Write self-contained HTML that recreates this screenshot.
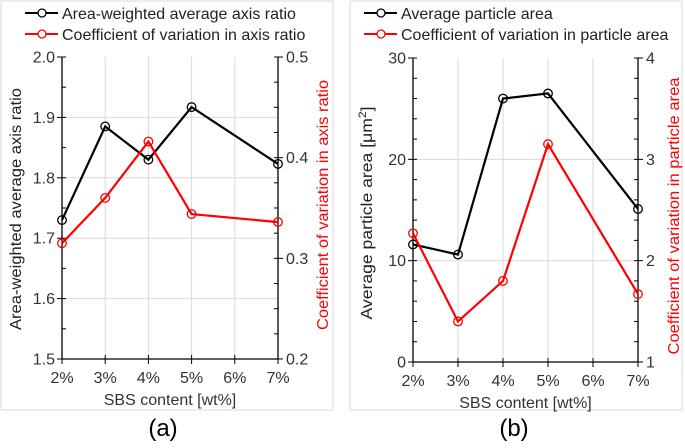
<!DOCTYPE html>
<html><head><meta charset="utf-8"><style>
body{margin:0;background:#fff;}
svg{font-family:"Liberation Sans",Arial,sans-serif;}
</style></head><body>
<svg id="c" width="685" height="443" viewBox="0 0 685 443" xmlns="http://www.w3.org/2000/svg"></svg>
<script>
const xCats = [2,3,4,5,7];
const xTickLabels = ["2%","3%","4%","5%","6%","7%"];
const xTickVals = [2,3,4,5,6,7];
const aAxisRatio = [1.73,1.885,1.83,1.917,1.823];
const aCvAxisRatio = [0.315,0.360,0.416,0.344,0.336];
const aLeftTicks = [1.5,1.6,1.7,1.8,1.9,2.0];
const aRightTicks = [0.2,0.3,0.4,0.5];
const bArea = [11.6,10.6,26.0,26.5,15.1];
const bCvArea = [2.27,1.40,1.80,3.15,1.67];
const bLeftTicks = [0,10,20,30];
const bRightTicks = [1,2,3,4];

const svg = document.getElementById('c');
const NS = 'http://www.w3.org/2000/svg';
function mk(tag, attrs, parent){const e=document.createElementNS(NS,tag);for(const k in attrs)e.setAttribute(k,attrs[k]);(parent||svg).appendChild(e);return e;}

function panel(o){
  const g = mk('g',{});
  
  
  const fr = mk('rect',{x:o.fx,y:1,width:o.fw,height:409,fill:'none',stroke:'#d9d9d9','stroke-width':1},g);
  
  
  const X = v => o.L + (v-2)/(7-2)*(o.R-o.L);
  const YL = v => o.B - (v-o.lmin)/(o.lmax-o.lmin)*(o.B-o.T);
  const YR = v => o.B - (v-o.rmin)/(o.rmax-o.rmin)*(o.B-o.T);
  xTickVals.forEach(v=>{ if(v>2&&v<7){const l=mk('line',{x1:X(v),x2:X(v),y1:o.T,y2:o.B,stroke:'#d9d9d9'},g);}});
  o.lt.forEach(v=>{ if(v>o.lmin&&v<o.lmax){const l=mk('line',{x1:o.L,x2:o.R,y1:YL(v),y2:YL(v),stroke:'#d9d9d9'},g);}});
  mk('line',{x1:o.L,x2:o.L,y1:o.T,y2:o.B,stroke:'#000','stroke-width':1.3},g);
  mk('line',{x1:o.R,x2:o.R,y1:o.T,y2:o.B,stroke:'#000','stroke-width':1.3},g);
  mk('line',{x1:o.L,x2:o.R,y1:o.B,y2:o.B,stroke:'#000','stroke-width':1.3},g);
  for(let i=0;i<o.lt.length;i++){
    const v=o.lt[i]; mk('line',{x1:o.L-5,x2:o.L+4,y1:YL(v),y2:YL(v),stroke:'#000'},g);
    const t=mk('text',{x:o.L-7,y:YL(v)+5.5,'text-anchor':'end','font-size':16,fill:'#333'},g);t.textContent=o.lfmt(v);
    
    if(i<o.lt.length-1){const step=(o.lt[i+1]-v)/o.lminor;for(let k=1;k<o.lminor;k++)mk('line',{x1:o.L,x2:o.L+4,y1:YL(v+k*step),y2:YL(v+k*step),stroke:'#000'},g);}
  }
  for(let i=0;i<o.rt.length;i++){
    const v=o.rt[i]; mk('line',{x1:o.R-4,x2:o.R+5,y1:YR(v),y2:YR(v),stroke:'#000'},g);
    const t=mk('text',{x:o.R+8,y:YR(v)+5.5,'text-anchor':'start','font-size':16,fill:'#333'},g);t.textContent=o.rfmt(v);
    
    if(i<o.rt.length-1){const step=(o.rt[i+1]-v)/o.rminor;for(let k=1;k<o.rminor;k++)mk('line',{x1:o.R-4,x2:o.R,y1:YR(v+k*step),y2:YR(v+k*step),stroke:'#000'},g);}
  }
  xTickVals.forEach((v,i)=>{
    mk('line',{x1:X(v),x2:X(v),y1:o.B-4,y2:o.B+5,stroke:'#000'},g);
    const t=mk('text',{x:X(v),y:o.B+24,'text-anchor':'middle','font-size':16,fill:'#333'},g);t.textContent=xTickLabels[i];
    
  });
  const xt=mk('text',{x:(o.L+o.R)/2,y:o.B+46,'text-anchor':'middle','font-size':16,fill:'#333'},g);xt.textContent='SBS content [wt%]';
  
  const yl=mk('text',{x:0,y:0,'text-anchor':'middle','font-size':16,fill:'#222',textLength:o.ltl,lengthAdjust:'spacingAndGlyphs',transform:`translate(${o.ltx},${o.lty}) rotate(-90)`},g);yl.innerHTML=o.ltitle;
  
  const yr=mk('text',{x:0,y:0,'text-anchor':'middle','font-size':16,fill:'#ff0000',textLength:o.rtl,lengthAdjust:'spacingAndGlyphs',transform:`translate(${o.rtx},${o.rty}) rotate(-90)`},g);yr.textContent=o.rtitle;
  
  function series(vals,Y,col,nm){
    const p=mk('polyline',{points:xCats.map((c,i)=>X(c)+','+Y(vals[i])).join(' '),fill:'none',stroke:col,'stroke-width':2.2},g);
    
    xCats.forEach((c,i)=>{const m=mk('circle',{cx:X(c),cy:Y(vals[i]),r:4.3,fill:'none',stroke:col,'stroke-width':1.3},g);
      });
  }
  series(o.s1,YL,'#000','black-series');
  series(o.s2,YR,'#ff0000','red-series');
  [[o.leg1,'#000',13],[o.leg2,'#ff0000',34]].forEach(([txt,col,y])=>{
    mk('line',{x1:o.lx,x2:o.lx+33,y1:y,y2:y,stroke:col,'stroke-width':2},g);
    mk('circle',{cx:o.lx+17,cy:y,r:4,fill:'#fff',stroke:col,'stroke-width':1.3},g);
    const t=mk('text',{x:o.lx+37,y:y+6,'font-size':16,fill:'#222'},g);t.textContent=txt;
    
  });
  const lab=mk('text',{x:o.labx,y:436,'text-anchor':'middle','font-size':24,fill:'#000'},g);lab.textContent=o.lab;
  
}
panel({name:'panel-a',fx:1,fw:332,L:62,R:278,T:57,B:359,lmin:1.5,lmax:2.0,rmin:0.2,rmax:0.5,lt:aLeftTicks,rt:aRightTicks,lminor:2,rminor:4,
  lfmt:v=>v.toFixed(1),rfmt:v=>v.toFixed(1),ltitle:'Area-weighted  average  axis ratio',rtitle:'Coefficient  of variation  in axis ratio',
  ltx:21,lty:209,ltl:242,rtx:328,rty:205,rtl:250,
  s1:aAxisRatio,s2:aCvAxisRatio,lx:25,leg1:'Area-weighted average axis ratio',leg2:'Coefficient of variation in axis ratio',labx:163,lab:'(a)'});
panel({name:'panel-b',fx:350,fw:332,L:413,R:638,T:58,B:362,lmin:0,lmax:30,rmin:1,rmax:4,lt:bLeftTicks,rt:bRightTicks,lminor:5,rminor:5,
  lfmt:v=>String(v),rfmt:v=>String(v),ltitle:'Average  particle area [μm<tspan dy="-6" font-size="11">2</tspan><tspan dy="6">]</tspan>',rtitle:'Coefficient  of variation  in particle area',
  ltx:372,lty:213,ltl:213,rtx:679,rty:216,rtl:277,
  s1:bArea,s2:bCvArea,lx:364,leg1:'Average particle area',leg2:'Coefficient of variation in particle area',labx:514,lab:'(b)'});
</script>
</body></html>
